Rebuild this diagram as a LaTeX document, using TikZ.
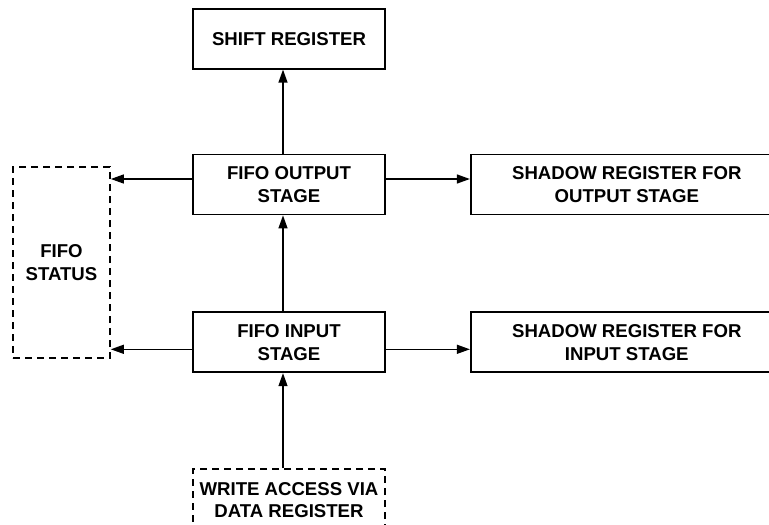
\documentclass[tikz,border=0pt]{standalone}
\usepackage{fontspec}
\setmainfont{Liberation Sans}
\usetikzlibrary{arrows.meta,positioning}

\begin{document}
\begin{tikzpicture}[x=1pt, y=1pt, node distance=84pt,
		every node/.style={font=\fontsize{18.6}{22.7}\selectfont\bfseries, align=center},
		b/.style={draw, line width=1.8pt, minimum width=192pt, minimum height=60pt, inner sep=0pt},
		db/.style={b, line width=1.6pt, dash pattern=on 7pt off 5pt},
		arr/.style={-{Triangle[length=13pt, width=9pt]}, line width=1.3pt}]
	\useasboundingbox (0,0) rectangle (769,-525);
	\node[b] (out) at (289,-184.5) {FIFO OUTPUT\\STAGE};
	\node[b, above=of out] (shift) {SHIFT REGISTER};
	\node[b, below=96pt of out] (in) {FIFO INPUT\\STAGE};
	\node[b, right=of out, minimum width=312pt] (shout) {SHADOW REGISTER FOR\\OUTPUT STAGE};
	\node[b, right=of in, minimum width=312pt] (shin) {SHADOW REGISTER FOR\\INPUT STAGE};
	\node[db, below=95pt of in, minimum height=62pt] (wr) {WRITE ACCESS VIA\\DATA REGISTER};
	\node[db, minimum width=97pt, minimum height=191pt] (status) at (61.5,-262.5) {FIFO\\STATUS};
	% vertical path
	\draw[arr] ([xshift=-6pt]wr.north) -- ([xshift=-6pt]in.south);
	\draw[arr] ([xshift=-6pt]in.north) -- ([xshift=-6pt]out.south);
	\draw[arr] ([xshift=-6pt]out.north) -- ([xshift=-6pt]shift.south);
	% side arrows
	\draw[arr] ([yshift=5.5pt]out.west) -- ([yshift=5.5pt]status.east |- out.west);
	\draw[arr] ([yshift=5.5pt]out.east) -- ([yshift=5.5pt]shout.west);
	\draw[arr] ([yshift=-7pt]in.west) -- ([yshift=-7pt]status.east |- in.west);
	\draw[arr] ([yshift=-7pt]in.east) -- ([yshift=-7pt]shin.west);
\end{tikzpicture}
\end{document}
